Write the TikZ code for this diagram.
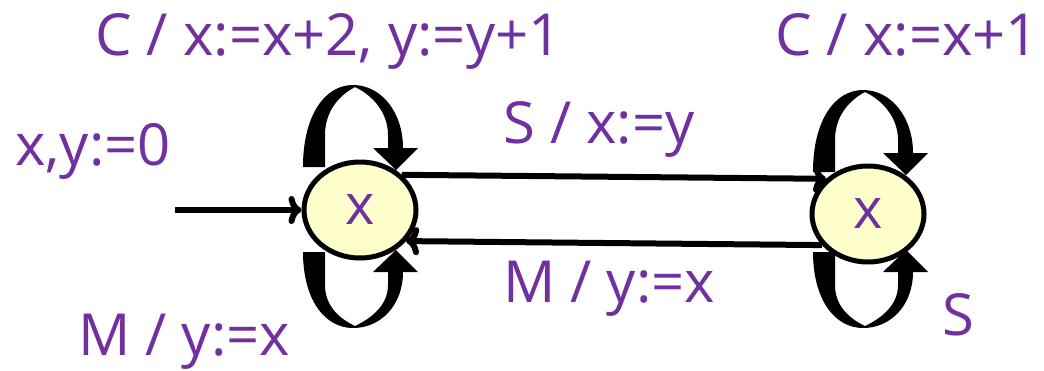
\documentclass[tikz,border=0pt]{standalone}
\usepackage{fontspec}
\setmainfont{Open Sans}
\usetikzlibrary{arrows.meta,shapes.geometric}
\definecolor{lbl}{HTML}{7030A0}
\definecolor{stfill}{HTML}{FFFFCC}
\tikzset{
  state/.style={ellipse, draw=black, line width=5pt, fill=stfill, minimum width=112pt, minimum height=96pt, inner sep=0pt, text=lbl, font=\fontsize{56}{60}\selectfont},
  lab/.style={text=lbl, inner sep=0pt, font=\fontsize{58}{64}\selectfont},
  conn/.style={draw=black, line width=6pt, -{To[length=13pt,width=28pt,line width=6pt]}},
  loopfill/.style={fill=black, draw=none}
}
\newcommand{\upperloop}{%
\fill[loopfill] (303,167) .. controls (303,115) and (325,85) .. (353,85) .. controls (381,85) and (403,112) .. (403,148) -- (418,148) -- (396,170) -- (373,148) -- (388,148) -- (388,135) .. controls (388,112) and (372,95) .. (355,87) .. controls (338,96) and (325,112) .. (325,135) -- (325,167) -- cycle;}
\newcommand{\lowerloop}{%
\fill[loopfill] (303,252) .. controls (303,300) and (325,328) .. (353,328) .. controls (381,328) and (403,305) .. (403,272) -- (418,272) -- (396,250) -- (373,272) -- (388,272) -- (388,285) .. controls (388,305) and (372,318) .. (355,326) .. controls (338,318) and (325,305) .. (325,285) -- (325,252) -- cycle;}
\begin{document}
\begin{tikzpicture}[x=1pt,y=-1pt]
\useasboundingbox (0,0) rectangle (1044,370);
% self loops (drawn behind states)
\upperloop
\lowerloop
\begin{scope}[shift={(510,5)}]
\upperloop
\end{scope}
\begin{scope}[shift={(510,0)}]
\lowerloop
\end{scope}
% states
\node[state] (L) at (360,210) {x};
\node[state] (R) at (868,214) {x};
\coordinate (init) at (175,210);
% edges
\draw[conn] (init) -- (L.west);
\draw[conn] (L.40) -- (R.140);
\draw[conn] (R.214) -- (L.-34);
% labels
\node[lab, anchor=base west] (t1) at (95,55) {C / x:=x+2, y:=y+1};
\node[lab, anchor=base west] (t2) at (775,55) {C / x:=x+1};
\node[lab, anchor=base west] (t3) at (15,165) {x,y:=0};
\node[lab, anchor=base west] (t4) at (503,143) {S / x:=y};
\node[lab, anchor=base west] (t5) at (503,302) {M / y:=x};
\node[lab, anchor=base west] (t6) at (78,355) {M / y:=x};
\node[lab, anchor=base west] (t7) at (942,335) {S};
\end{tikzpicture}
\end{document}
